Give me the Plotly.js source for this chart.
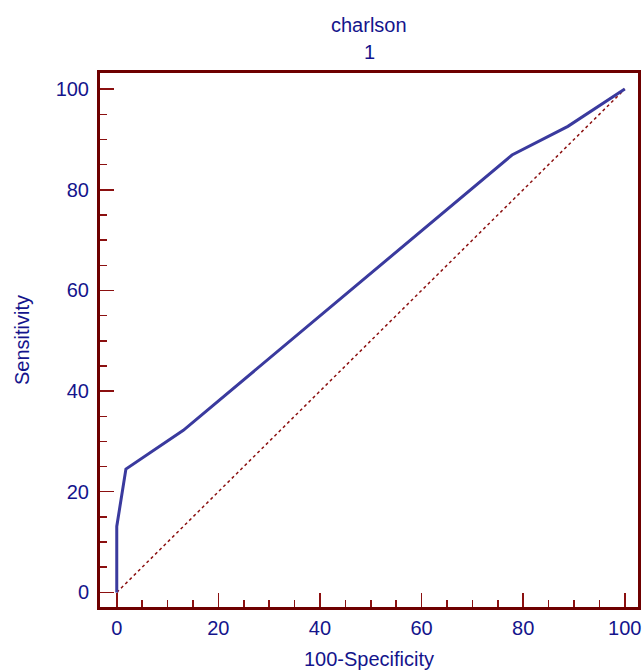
<!DOCTYPE html>
<html>
<head>
<meta charset="utf-8">
<script src="https://cdn.plot.ly/plotly-3.0.1.min.js"></script>
<style>html,body{margin:0;padding:0;background:#fff;}#chart{width:643px;height:672px;}</style>
</head>
<body>
<div id="chart"></div>
<script>
// ROC curve data (100-Specificity vs Sensitivity)
const fpr = [0, 0, 1.8, 13.1, 77.8, 88.8, 100];
const sensitivity = [0, 13.1, 24.5, 32.2, 86.9, 92.6, 100];
const diagX = [0, 100];
const diagY = [0, 100];
const tickVals = [0, 20, 40, 60, 80, 100];
const titleLines = ['charlson', '1'];
const xTitle = '100-Specificity';
const yTitle = 'Sensitivity';

const navy = '#14148c';
const frame = '#6e0000';
const fontFam = 'Liberation Sans, Arial, Helvetica, sans-serif';
const fs = 20;

const traces = [
  {x: diagX, y: diagY, mode: 'lines', line: {color: '#8b1010', width: 1.5, dash: 'dot'}, hoverinfo: 'skip'},
  {x: fpr, y: sensitivity, mode: 'lines', line: {color: '#3a3a9e', width: 3}}
];

const axisCommon = {
  showgrid: false, zeroline: false,
  showline: true, mirror: true, linecolor: frame, linewidth: 3,
  ticks: 'inside', ticklen: 14, tickwidth: 1.5, tickcolor: '#8b1010',
  tickvals: tickVals,
  tickfont: {family: fontFam, size: fs, color: navy},
  minor: {dtick: 5, tick0: 0, ticks: 'inside', ticklen: 7, tickwidth: 1.5, tickcolor: '#8b1010', showgrid: false}
};

const layout = {
  width: 643, height: 672,
  margin: {l: 100, r: 5, t: 73, b: 65},
  paper_bgcolor: '#fff', plot_bgcolor: '#fff',
  showlegend: false,
  font: {family: fontFam, color: navy},
  annotations: [
    {text: titleLines[0], xref: 'paper', yref: 'paper', x: 0.5, y: 1 + (73 - 25) / 534, xanchor: 'center', yanchor: 'middle', showarrow: false, font: {family: fontFam, size: fs, color: navy}},
    {text: titleLines[1], xref: 'paper', yref: 'paper', x: 0.5, y: 1 + (73 - 52) / 534, xanchor: 'center', yanchor: 'middle', showarrow: false, font: {family: fontFam, size: fs, color: navy}}
  ],
  xaxis: Object.assign({}, axisCommon, {range: [-3.3, 102.6], ticklabelstandoff: 1, title: {text: xTitle, font: {family: fontFam, size: fs, color: navy}, standoff: 14}}),
  yaxis: Object.assign({}, axisCommon, {range: [-2.9, 103.2], ticklabelstandoff: 4, title: {text: yTitle, font: {family: fontFam, size: fs, color: navy}, standoff: 21}})
};

Plotly.newPlot('chart', traces, layout, {displayModeBar: false, staticPlot: true});
</script>
</body>
</html>
